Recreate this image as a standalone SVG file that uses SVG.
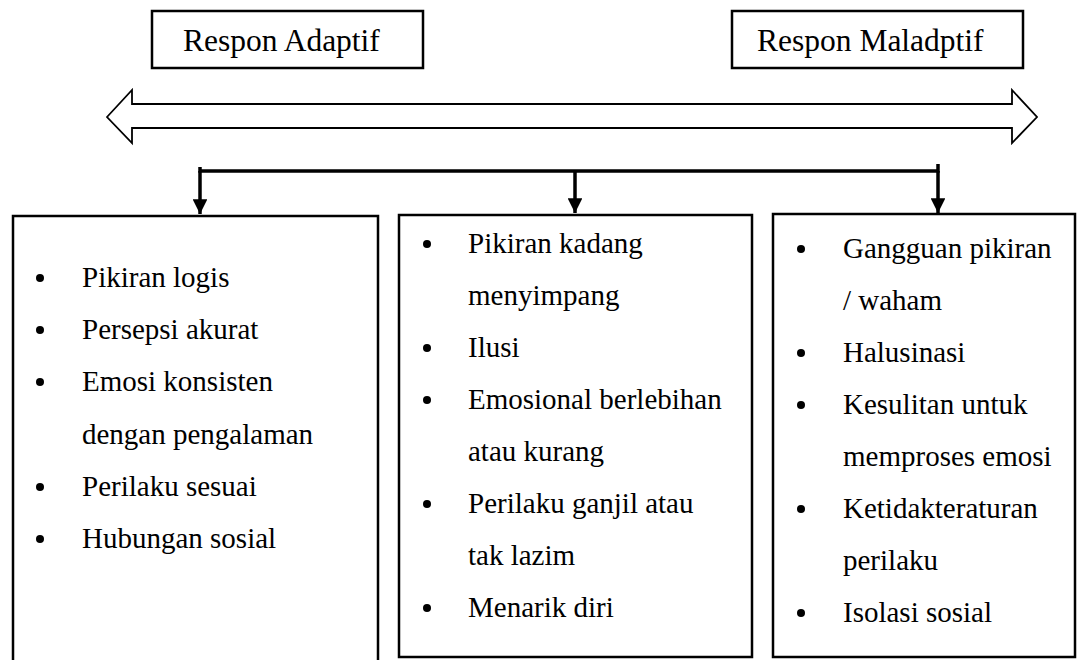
<svg xmlns="http://www.w3.org/2000/svg" width="1078" height="660" viewBox="0 0 1078 660">
<style>
.box{fill:#fff;stroke:#000;stroke-width:2.5}
.hdr{font-family:'Liberation Serif','Tinos','DejaVu Serif',serif;font-size:31.5px;fill:#000}
.t{font-family:'Liberation Serif','Tinos','DejaVu Serif',serif;font-size:29px;fill:#000}
.b{fill:#000}
.con{fill:none;stroke:#000;stroke-width:3.5}
</style>
<defs>
<marker id="ah" viewBox="0 0 10 10" refX="10" refY="5" markerWidth="4.2" markerHeight="4.2" markerUnits="strokeWidth" orient="auto">
<path d="M0,0 L10,5 L0,10 z" fill="#000"/>
</marker>
</defs>
<rect width="1078" height="660" fill="#fff"/>
<g id="adaptif">
<rect class="box" x="152" y="11" width="271" height="57"/>
<text class="hdr" x="183" y="50.5">Respon Adaptif</text>
</g>
<g id="maladaptif">
<rect class="box" x="732" y="11" width="291" height="57"/>
<text class="hdr" x="757" y="50.5">Respon Maladptif</text>
</g>
<g id="continuum">
<path d="M107,117 L132,90 L132,104 L1012,104 L1012,90 L1037,117 L1012,143 L1012,128 L132,128 L132,143 Z" fill="#fff" stroke="#000" stroke-width="1.8" stroke-linejoin="miter"/>
</g>
<g id="connectors">
<path class="con" d="M200,167 L200,171 L938,171 L938,164"/>
<line class="con" x1="200" y1="171" x2="200" y2="214" marker-end="url(#ah)"/>
<line class="con" x1="575" y1="171" x2="575" y2="213" marker-end="url(#ah)"/>
<line class="con" x1="938" y1="171" x2="938" y2="213" marker-end="url(#ah)"/>
</g>
<g id="box-adaptif">
<path d="M13,662 L13,216 L378,216 L378,662" fill="#fff" stroke="#000" stroke-width="2.5"/>
<circle class="b" cx="40" cy="278" r="4"/>
<text class="t" x="82" y="287">Pikiran logis</text>
<circle class="b" cx="40" cy="330" r="4"/>
<text class="t" x="82" y="339">Persepsi akurat</text>
<circle class="b" cx="40" cy="382" r="4"/>
<text class="t" x="82" y="391">Emosi konsisten</text>
<text class="t" x="82" y="444">dengan pengalaman</text>
<circle class="b" cx="40" cy="487" r="4"/>
<text class="t" x="82" y="496">Perilaku sesuai</text>
<circle class="b" cx="40" cy="539" r="4"/>
<text class="t" x="82" y="548">Hubungan sosial</text>
</g>
<g id="box-tengah">
<rect class="box" x="399" y="215" width="353" height="442"/>
<circle class="b" cx="427" cy="244" r="4"/>
<text class="t" x="468" y="253">Pikiran kadang</text>
<text class="t" x="468" y="305">menyimpang</text>
<circle class="b" cx="427" cy="348" r="4"/>
<text class="t" x="468" y="357">Ilusi</text>
<circle class="b" cx="427" cy="400" r="4"/>
<text class="t" x="468" y="409">Emosional berlebihan</text>
<text class="t" x="468" y="461">atau kurang</text>
<circle class="b" cx="427" cy="504" r="4"/>
<text class="t" x="468" y="513">Perilaku ganjil atau</text>
<text class="t" x="468" y="565">tak lazim</text>
<circle class="b" cx="427" cy="608" r="4"/>
<text class="t" x="468" y="617">Menarik diri</text>
</g>
<g id="box-maladaptif">
<rect class="box" x="773" y="214" width="302" height="443"/>
<circle class="b" cx="801" cy="249" r="4"/>
<text class="t" x="843" y="258">Gangguan pikiran</text>
<text class="t" x="843" y="310">/ waham</text>
<circle class="b" cx="801" cy="353" r="4"/>
<text class="t" x="843" y="362">Halusinasi</text>
<circle class="b" cx="801" cy="405" r="4"/>
<text class="t" x="843" y="414">Kesulitan untuk</text>
<text class="t" x="843" y="466">memproses emosi</text>
<circle class="b" cx="801" cy="509" r="4"/>
<text class="t" x="843" y="518">Ketidakteraturan</text>
<text class="t" x="843" y="570">perilaku</text>
<circle class="b" cx="801" cy="613" r="4"/>
<text class="t" x="843" y="622">Isolasi sosial</text>
</g>
</svg>
